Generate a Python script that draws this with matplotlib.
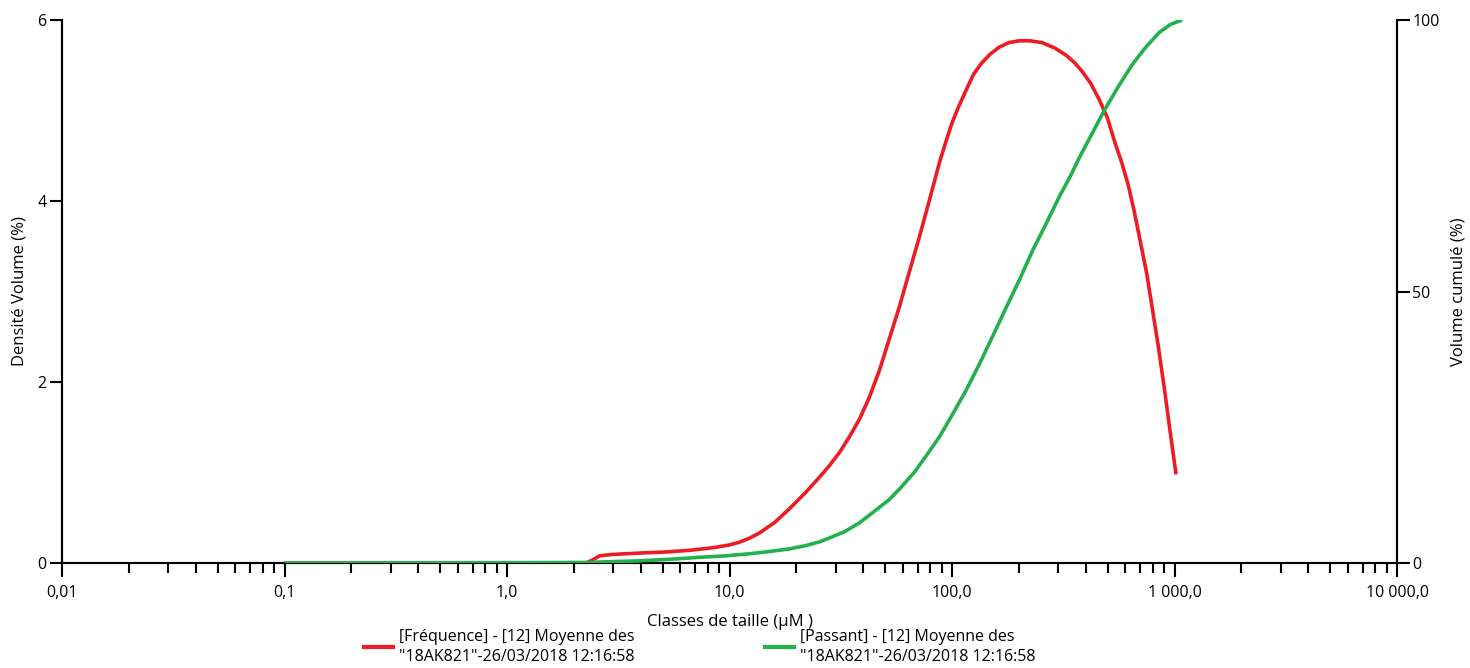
import numpy as np
import matplotlib
matplotlib.use('Agg')
import matplotlib.pyplot as plt
from matplotlib.ticker import FixedLocator, NullFormatter
from matplotlib.lines import Line2D

plt.rcParams['font.family'] = ['Open Sans', 'DejaVu Sans']

# Fréquence (densité volume, axe gauche)
size_freq = [0.1, 0.5, 1.0, 2.0, 2.27, 2.45, 2.61, 3.0, 3.94, 5.0, 6.61, 8.5, 10.0, 11.1,
             12.3, 13.6, 16.0, 18.6, 22.0, 25.4, 28.0, 31.2, 34.5, 38.4, 42.5, 47.2,
             52.0, 58.0, 64.0, 71.3, 79.0, 87.7, 94.0, 100.3, 107, 117, 125, 135.5,
             148, 163, 180, 200, 225, 254, 290, 326, 355, 385, 420, 459, 499, 541,
             580, 619, 660, 701, 750, 794, 845, 899, 955, 1016]
freq = [0, 0, 0, 0, 0.0, 0.04, 0.08, 0.095, 0.11, 0.12, 0.14, 0.17, 0.20, 0.23,
        0.275, 0.33, 0.45, 0.60, 0.78, 0.95, 1.07, 1.22, 1.39, 1.59, 1.83, 2.13,
        2.46, 2.83, 3.20, 3.60, 4.00, 4.42, 4.66, 4.87, 5.04, 5.25, 5.40, 5.52,
        5.62, 5.70, 5.75, 5.77, 5.77, 5.75, 5.69, 5.61, 5.53, 5.43, 5.30, 5.12, 4.92, 4.64,
        4.42, 4.18, 3.88, 3.56, 3.20, 2.82, 2.40, 1.94, 1.46, 0.98]

# Passant (volume cumulé, axe droit)
size_pass = [0.1, 1.0, 2.27, 3.94, 5.5, 7.33, 9.5, 12.3, 15.0, 18.6, 22.0, 25.4, 28.1,
             33.0, 38.4, 45.0, 52.0, 58.0, 68.0, 78.0, 87.7, 100, 115, 132.7, 150,
             175, 200.6, 230, 265, 303, 340, 373, 420, 483, 560, 646, 740, 853, 960, 1082]
passant = [0, 0.05, 0.1, 0.4, 0.7, 1.05, 1.3, 1.7, 2.1, 2.6, 3.2, 3.9, 4.6,
           5.8, 7.4, 9.6, 11.6, 13.6, 16.8, 20.2, 23.2, 27.2, 31.6, 36.6, 41.2,
           47.0, 52.1, 57.5, 62.5, 67.4, 71.2, 74.6, 78.6, 83.3, 87.8, 91.8, 94.9, 97.7, 99.2, 100]

xticks = [0.01, 0.1, 1, 10, 100, 1000, 10000]
xlabels = ['0,01', '0,1', '1,0', '10,0', '100,0', '1 000,0', '10 000,0']

red = '#ED1C24'
green = '#22B14C'

fig = plt.figure(figsize=(14.7, 6.68), dpi=100)
ax = fig.add_axes([62/1470, 105/668, (1397-62)/1470, (563-20)/668])
ax2 = ax.twinx()

ax.plot(size_freq, freq, color=red, lw=2.6, solid_capstyle='butt', solid_joinstyle='round', zorder=3)
ax2.plot(size_pass, passant, color=green, lw=2.6, solid_capstyle='butt', solid_joinstyle='round', zorder=3)

ax.set_xscale('log')
ax.set_xlim(0.01, 10000)
ax.set_ylim(0, 6)
ax2.set_ylim(0, 100)

ax.xaxis.set_major_locator(FixedLocator(xticks))
ax.set_xticklabels(xlabels)
minors = [m * 10.0**e for e in range(-2, 4) for m in range(2, 10)]
ax.xaxis.set_minor_locator(FixedLocator(minors))
ax.xaxis.set_minor_formatter(NullFormatter())
ax.set_yticks([0, 2, 4, 6])
ax2.set_yticks([0, 50, 100])

for a in (ax, ax2):
    a.spines['top'].set_visible(False)
    for s in a.spines.values():
        s.set_linewidth(1.5)
ax.tick_params(axis='x', which='major', length=10, width=1.5, labelsize=11.5, pad=6)
ax.tick_params(axis='x', which='minor', length=7, width=1.5)
ax.tick_params(axis='y', length=9, width=1.5, labelsize=11.5, pad=2)
ax2.tick_params(axis='y', length=9, width=1.5, labelsize=11.5, pad=2)

ax.set_xlabel('Classes de taille (µM )', fontsize=12, labelpad=9)
ax.set_ylabel('Densité Volume (%)', fontsize=12, labelpad=7)
ax2.set_ylabel('Volume cumulé (%)', fontsize=12, labelpad=8)

h1 = Line2D([], [], color=red, lw=3)
h2 = Line2D([], [], color=green, lw=3)
leg1 = fig.legend([h1], ['[Fréquence] - [12] Moyenne des\n"18AK821"-26/03/2018 12:16:58'],
                  loc='center left', bbox_to_anchor=(358/1470, 21/668), frameon=False,
                  fontsize=11.5, handlelength=1.8, handletextpad=0.35, borderaxespad=0)
leg2 = fig.legend([h2], ['[Passant] - [12] Moyenne des\n"18AK821"-26/03/2018 12:16:58'],
                  loc='center left', bbox_to_anchor=(759/1470, 21/668), frameon=False,
                  fontsize=11.5, handlelength=1.8, handletextpad=0.35, borderaxespad=0)
for lg in (leg1, leg2):
    for t in lg.get_texts():
        t.set_linespacing(1.4)

fig.savefig('out.png', dpi=100)
